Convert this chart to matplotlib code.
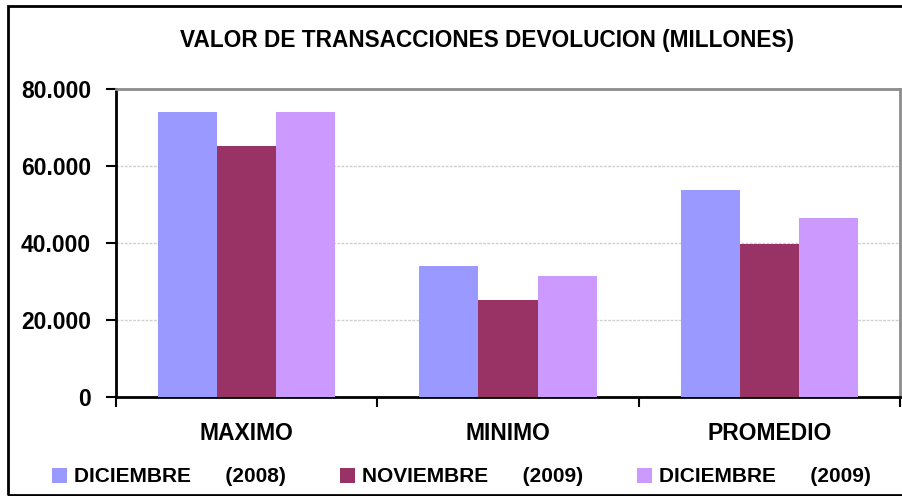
import numpy as np
import matplotlib
matplotlib.use("Agg")
import matplotlib.pyplot as plt
from matplotlib.patches import Rectangle
from matplotlib.ticker import FuncFormatter

categorias = ["MAXIMO", "MINIMO", "PROMEDIO"]
series = ["DICIEMBRE      (2008)", "NOVIEMBRE      (2009)", "DICIEMBRE      (2009)"]
dic_2008 = [74000, 34000, 53800]
nov_2009 = [65200, 25200, 39700]
dic_2009 = [74000, 31400, 46500]
colores = ["#9999FF", "#993366", "#CC99FF"]
titulo = "VALOR DE TRANSACCIONES DEVOLUCION (MILLONES)"


def fmt_miles(v, pos):
    if v == 0:
        return "0"
    return "{:,.0f}".format(v).replace(",", ".")


def main():
    plt.rcParams['font.family'] = ['Liberation Sans', 'DejaVu Sans']
    plt.rcParams['font.weight'] = 'bold'

    fig = plt.figure(figsize=(9.02, 4.96), dpi=100)
    ax = fig.add_axes([116 / 902, 99 / 496, 784 / 902, 308 / 496])

    # outer chart border
    fig.patches.append(Rectangle((8 / 902, 1 / 496), 1.0, 1 - 6 / 496 - 1 / 496,
                                 transform=fig.transFigure, fill=False,
                                 edgecolor="black", linewidth=2, zorder=0))

    x = np.arange(len(categorias))
    w = 0.226
    valores = [dic_2008, nov_2009, dic_2009]
    for i, (vals, col, lab) in enumerate(zip(valores, colores, series)):
        ax.bar(x + (i - 1) * w, vals, width=w, color=col, label=lab, zorder=3)

    ax.set_xlim(-0.5, 2.5)
    ax.set_ylim(0, 80000)
    ax.set_yticks([0, 20000, 40000, 60000, 80000])
    ax.yaxis.set_major_formatter(FuncFormatter(fmt_miles))
    ax.tick_params(axis='y', direction='out', length=7, width=1.5, pad=11,
                   labelsize=16.5)
    ax.grid(axis='y', color="#d0d0d0", linestyle=(0, (2, 1)), linewidth=1, zorder=0)

    # category labels at centers, ticks at boundaries
    ax.set_xticks(x)
    ax.set_xticklabels(categorias, fontsize=16.5, fontweight='bold')
    ax.tick_params(axis='x', which='major', length=0, pad=18)
    ax.set_xticks([-0.5, 0.5, 1.5, 2.5], minor=True)
    ax.tick_params(axis='x', which='minor', direction='out', length=7, width=1.5)

    for s in ["left", "bottom"]:
        ax.spines[s].set_color("black")
        ax.spines[s].set_linewidth(2)
    for s in ["top", "right"]:
        ax.spines[s].set_color("#8c8c8c")
        ax.spines[s].set_linewidth(2)

    fig.text(487 / 902, 1 - 40 / 496, titulo, ha='center', va='center',
             fontsize=16.3, fontweight='bold')

    ax.legend(loc='center left', bbox_to_anchor=(52 / 902, 19 / 496),
              bbox_transform=fig.transFigure, ncol=3, frameon=False,
              fontsize=15, handlelength=0.7, handleheight=0.75,
              handletextpad=0.35, columnspacing=2.6, borderaxespad=0,
              borderpad=0)

    fig.savefig("out.png", dpi=100)


if __name__ == "__main__":
    main()
